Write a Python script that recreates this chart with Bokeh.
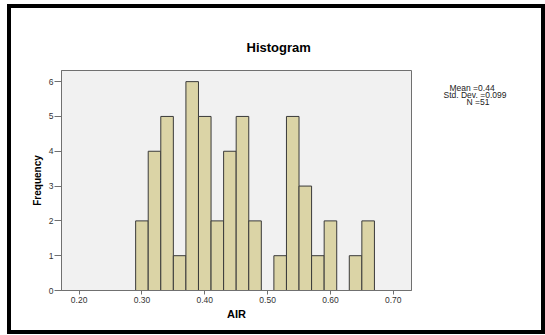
from bokeh.plotting import figure
from bokeh.models import (Range1d, FixedTicker, NumeralTickFormatter, Title,
                          LinearAxis, ColumnDataSource)
from bokeh.embed import file_html
from bokeh.resources import INLINE

# ---- data ----
bin_left = [0.29, 0.31, 0.33, 0.35, 0.37, 0.39, 0.41, 0.43, 0.45, 0.47,
            0.49, 0.51, 0.53, 0.55, 0.57, 0.59, 0.61, 0.63, 0.65]
bin_right = [0.31, 0.33, 0.35, 0.37, 0.39, 0.41, 0.43, 0.45, 0.47, 0.49,
             0.51, 0.53, 0.55, 0.57, 0.59, 0.61, 0.63, 0.65, 0.67]
frequency = [2, 4, 5, 1, 6, 5, 2, 4, 5, 2, 0, 1, 5, 3, 1, 2, 0, 1, 2]
x_ticks = [0.20, 0.30, 0.40, 0.50, 0.60, 0.70]
y_ticks = [0, 1, 2, 3, 4, 5, 6]
stats_lines = ["Mean =0.44", "Std. Dev. =0.099", "N =51"]
title_text = "Histogram"
x_label = "AIR"
y_label = "Frequency"

FONT = "Liberation Sans"

# ---- layout constants (pixels inside the canvas) ----
W, H = 530, 322            # requested size (the CSS border is added around it)
CANVAS_W, CANVAS_H = 538, 330
FR_L, FR_R, FR_T, FR_B = 50, 400, 62, 282
STATS_TOP_OFFSET = 17      # first stats line, px below the frame top
STATS_LINE_GAP = 7         # px between stats lines
STATS_CENTER = 61          # px right of the frame where stats lines are centred
STATS_FONT_PX = 8.5

src = ColumnDataSource(dict(
    left=[l for l, c in zip(bin_left, frequency) if c > 0],
    right=[r for r, c in zip(bin_right, frequency) if c > 0],
    top=[c for c in frequency if c > 0],
    bottom=[0 for c in frequency if c > 0],
))

p = figure(width=W, height=H, output_backend="svg", toolbar_location=None,
           x_range=Range1d(0.172, 0.729), y_range=Range1d(0, 6.32),
           min_border_left=FR_L, min_border_right=CANVAS_W - FR_R,
           min_border_top=FR_T, min_border_bottom=CANVAS_H - FR_B,
           title=None)
p.styles = {"border": "4px solid black", "margin-left": "7px",
            "margin-top": "4px", "box-sizing": "content-box"}
p.background_fill_color = "#F1F1F1"
p.border_fill_color = "white"
p.outline_line_color = "#707070"
p.outline_line_width = 1
p.xgrid.visible = False
p.ygrid.visible = False

p.quad(left="left", right="right", top="top", bottom="bottom", source=src,
       fill_color="#DBD4A6", line_color="#3A3A3A", line_width=1)

for ax in (p.xaxis[0], p.yaxis[0]):
    ax.axis_line_color = "#707070"
    ax.major_tick_line_color = "#707070"
    ax.major_tick_in = 0
    ax.minor_tick_line_color = None
    ax.major_label_text_font = FONT
    ax.major_label_text_font_size = "8.5px"
    ax.major_label_text_color = "#333333"
    ax.axis_label_text_font = FONT
    ax.axis_label_text_font_style = "bold"
    ax.axis_label_text_color = "black"

p.xaxis[0].ticker = FixedTicker(ticks=x_ticks)
p.xaxis[0].formatter = NumeralTickFormatter(format="0.00")
p.xaxis[0].major_tick_out = 4
p.xaxis[0].major_label_standoff = 2
p.xaxis[0].axis_label = x_label
p.xaxis[0].axis_label_text_font_size = "11px"
p.xaxis[0].axis_label_standoff = 2
p.yaxis[0].ticker = FixedTicker(ticks=y_ticks)
p.yaxis[0].major_tick_out = 7
p.yaxis[0].major_label_standoff = 1
p.yaxis[0].axis_label = y_label
p.yaxis[0].axis_label_text_font_size = "10px"
p.yaxis[0].axis_label_standoff = 3

title = Title(text=title_text, align="left", offset=185, standoff=32,
              text_font=FONT, text_font_style="bold", text_font_size="13px",
              text_color="black")
p.add_layout(title, "above")

# statistics text: one label per extra right-hand axis (no line, no ticks);
# the axes stack outward, so each standoff is relative to the previous axis end.
# Approximate Arial/Liberation advance widths (per 1000 em) for centring.
ADV = {"M": 833, "e": 556, "a": 556, "n": 556, " ": 278, "=": 584, "0": 556,
       ".": 278, "4": 556, "S": 667, "t": 278, "d": 556, "D": 722, "v": 500,
       "9": 556, "N": 722, "5": 556, "1": 556}


def text_w(s):
    return sum(ADV.get(ch, 556) for ch in s) * STATS_FONT_PX / 1000.0


frame_h = FR_B - FR_T
p.extra_y_ranges = {"stats": Range1d(0, frame_h)}
cursor = 0.0
for i, s in enumerate(stats_lines):
    pos = frame_h - STATS_TOP_OFFSET - STATS_LINE_GAP * i
    w = text_w(s)
    start = STATS_CENTER - w / 2.0
    standoff = int(round(start - cursor))
    ax = LinearAxis(y_range_name="stats",
                    ticker=FixedTicker(ticks=[pos]),
                    major_label_overrides={pos: s},
                    axis_line_color=None, major_tick_line_color=None,
                    minor_tick_line_color=None,
                    major_tick_in=0, major_tick_out=0,
                    major_label_standoff=standoff,
                    major_label_text_font=FONT,
                    major_label_text_font_size=f"{STATS_FONT_PX}px",
                    major_label_text_color="#222222")
    p.add_layout(ax, "right")
    cursor = cursor + standoff + w

open("out.html", "w").write(file_html(p, INLINE))
